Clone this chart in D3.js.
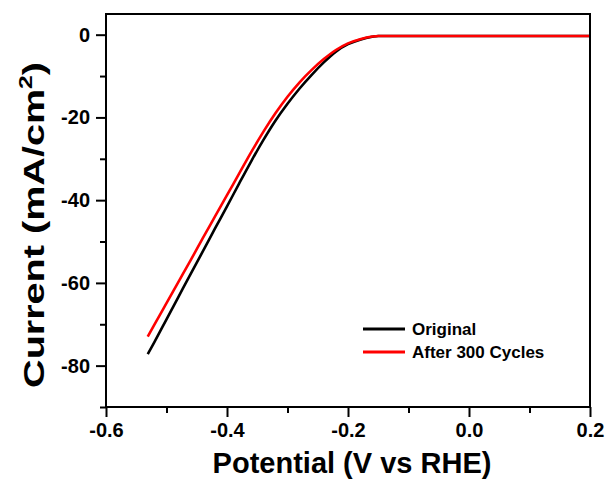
<!DOCTYPE html>
<html>
<head>
<meta charset="utf-8">
<script src="https://cdn.jsdelivr.net/npm/d3@7"></script>
<style>
  body { margin: 0; background: #fff; }
  text { font-family: "Liberation Sans", Arial, sans-serif; font-weight: bold; }
</style>
</head>
<body>
<div id="chart"></div>
<script>
// Original curve
var origV = [-0.531, -0.52, -0.50, -0.48, -0.46, -0.44, -0.42, -0.40, -0.38, -0.36, -0.34, -0.32, -0.30, -0.28, -0.26, -0.24, -0.22, -0.20, -0.18, -0.16, -0.15, -0.10, 0.0, 0.1, 0.2];
var origI = [-77.2, -74.3, -68.8, -63.3, -57.8, -52.4, -46.9, -41.5, -36.0, -30.6, -25.5, -20.8, -16.7, -13.0, -9.7, -6.7, -4.1, -2.3, -1.2, -0.5, -0.3, -0.3, -0.3, -0.3, -0.3];
// After 300 cycles
var cycV = [-0.531, -0.52, -0.50, -0.48, -0.46, -0.44, -0.42, -0.40, -0.38, -0.36, -0.34, -0.32, -0.30, -0.28, -0.26, -0.24, -0.22, -0.20, -0.18, -0.16, -0.15, -0.10, 0.0, 0.1, 0.2];
var cycI = [-73.0, -70.1, -64.9, -59.7, -54.5, -49.2, -44.0, -38.8, -33.6, -28.4, -23.5, -19.0, -15.0, -11.5, -8.5, -5.9, -3.7, -2.1, -1.1, -0.45, -0.3, -0.3, -0.3, -0.3, -0.3];

var xMajor = [-0.6, -0.4, -0.2, 0.0, 0.2];
var xMinor = [-0.5, -0.3, -0.1, 0.1];
var yMajor = [0, -20, -40, -60, -80];
var yMinor = [-10, -30, -50, -70, -90];

var series = [
  {label: "Original", color: "#000000", v: origV, i: origI},
  {label: "After 300 Cycles", color: "#ff0000", v: cycV, i: cycI}
];

var margin = {top: 14, right: 18, bottom: 73, left: 106};
var width = 608 - margin.left - margin.right, height = 480 - margin.top - margin.bottom;

var svg = d3.select("#chart")
  .append("svg")
    .attr("width", 608)
    .attr("height", 480)
  .append("g")
    .attr("transform", "translate(" + margin.left + "," + margin.top + ")");

var x = d3.scaleLinear().domain([-0.6, 0.2]).range([0, width]);
var y = d3.scaleLinear().domain([-90, 5]).range([height, 0]);

// curves
var line = d3.line()
  .x(function (d) { return x(d[0]); })
  .y(function (d) { return y(d[1]); })
  .curve(d3.curveMonotoneX);

series.forEach(function (s) {
  var pts = s.v.map(function (v, k) { return [v, s.i[k]]; });
  svg.append("path")
    .datum(pts)
    .attr("fill", "none")
    .attr("stroke", s.color)
    .attr("stroke-width", 2.6)
    .attr("stroke-linejoin", "round")
    .attr("d", line);
});

var hyphen = function (s) { return s.replace("\u2212", "-"); };

// x axis
svg.append("g")
  .attr("transform", "translate(0," + height + ")")
  .call(d3.axisBottom(x).tickValues(xMajor).tickSize(10).tickPadding(6)
        .tickFormat(function (d) { return hyphen(d3.format(".1f")(d)); }));
svg.append("g")
  .attr("transform", "translate(0," + height + ")")
  .call(d3.axisBottom(x).tickValues(xMinor).tickSize(6).tickFormat(""));

// y axis
svg.append("g")
  .call(d3.axisLeft(y).tickValues(yMajor).tickSize(10).tickPadding(6)
        .tickFormat(function (d) { return hyphen(d3.format("d")(d)); }));
svg.append("g")
  .call(d3.axisLeft(y).tickValues(yMinor).tickSize(6).tickFormat(""));

svg.selectAll(".domain").remove();
svg.selectAll(".tick line").attr("stroke", "#000").attr("stroke-width", 2);
svg.selectAll(".tick text").attr("font-size", 20).attr("fill", "#000");

// frame
svg.append("rect")
  .attr("width", width)
  .attr("height", height)
  .attr("fill", "none")
  .attr("stroke", "#000")
  .attr("stroke-width", 2);

// axis titles
svg.append("text")
  .attr("x", width / 2 + 4)
  .attr("y", height + 66)
  .attr("text-anchor", "middle")
  .attr("font-size", 29)
  .text("Potential (V vs RHE)");

var yt = svg.append("text")
  .attr("text-anchor", "middle")
  .attr("font-size", 29);
yt.append("tspan").text("Current (mA/cm");
yt.append("tspan").attr("font-size", 18).attr("dy", -12).text("2");
yt.append("tspan").attr("dy", 12).text(")");
// the original title is drawn stretched along its length
var ytLen = yt.node().getComputedTextLength();
yt.attr("transform", "translate(" + (-62) + "," + 211 + ") rotate(-90) scale(" + (326 / ytLen) + ",1)");

// legend
svg.selectAll("g.legend").data(series).enter().append("g")
  .attr("class", "legend")
  .attr("transform", function (d, i) { return "translate(" + 257 + "," + (315 + i * 23) + ")"; })
  .each(function (d) {
    d3.select(this).append("line")
      .attr("x1", 0).attr("x2", 42)
      .attr("stroke", d.color).attr("stroke-width", 3);
    d3.select(this).append("text")
      .attr("x", 49).attr("dy", "0.36em")
      .attr("font-size", 17)
      .text(d.label);
  });
</script>
</body>
</html>
